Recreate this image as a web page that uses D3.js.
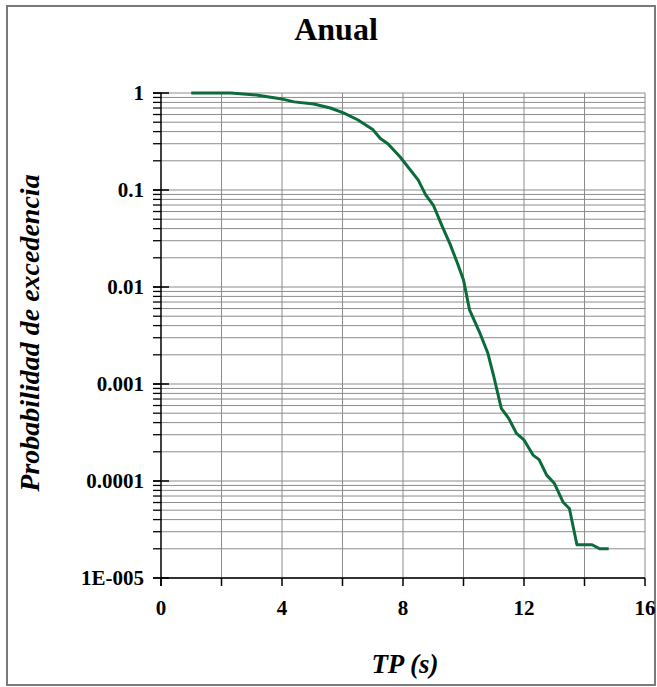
<!DOCTYPE html>
<html>
<head>
<meta charset="utf-8">
<script src="https://cdn.jsdelivr.net/npm/d3@7"></script>
<style>
  body { margin: 0; background: #fff; }
</style>
</head>
<body>
<div class="canvas"></div>
<script>
var width = 657,
    height = 687;

// data
var tp = [1.0, 2.3, 3.15, 4.05, 4.4, 5.05, 5.6, 6.05, 6.5, 7.0, 7.25, 7.5, 7.9, 8.5, 8.75, 9.0, 9.3, 9.55, 9.8, 10.0,
          10.2, 10.55, 10.8, 11.0, 11.25, 11.5, 11.75, 12.0, 12.3, 12.5, 12.75, 13.0, 13.3, 13.5, 13.75, 14.25, 14.5, 14.8];
var prob = [1, 1, 0.955, 0.86, 0.81, 0.77, 0.70, 0.62, 0.53, 0.42, 0.34, 0.30, 0.22, 0.127, 0.089, 0.070, 0.042, 0.028, 0.0176, 0.0118,
            0.0058, 0.0033, 0.0021, 0.0012, 0.00056, 0.00044, 0.00031, 0.000265, 0.000185, 0.000166, 0.000115, 0.000095, 0.00006, 0.000052, 0.000022, 0.000022, 0.00002, 0.00002];
var yTicks = [1, 0.1, 0.01, 0.001, 0.0001, 0.00001];
var yTickLabels = ["1", "0.1", "0.01", "0.001", "0.0001", "1E-005"];
var xTicks = [0, 4, 8, 12, 16];

var serif = "'Liberation Serif', 'Times New Roman', Times, serif";

var svg = d3.select(".canvas").append("svg")
    .attr("width", width)
    .attr("height", height)
    .attr("font-family", serif)
    .attr("font-weight", "bold");

// outer frame
svg.append("rect")
    .attr("x", 7).attr("y", 6)
    .attr("width", 648).attr("height", 679)
    .attr("fill", "none")
    .attr("stroke", "#7a7a7a")
    .attr("stroke-width", 2);

var x = d3.scaleLinear().domain([0, 16]).range([161, 645]);
var y = d3.scaleLog().domain([0.00001, 1]).range([578, 93]);

// minor values for the log grid
var minors = [];
for (var d = -5; d < 0; d++) {
    for (var m = 1; m <= 9; m++) {
        minors.push(m * Math.pow(10, d));
    }
}
minors.push(1);

var grid = svg.append("g");
grid.selectAll(".hgrid")
    .data(minors)
    .enter().append("line")
    .attr("x1", x(0)).attr("x2", x(16))
    .attr("y1", function(d) { return y(d); })
    .attr("y2", function(d) { return y(d); })
    .attr("stroke", "#8c8c8c")
    .attr("stroke-width", 1);

grid.selectAll(".vgrid")
    .data(d3.range(2, 17, 2))
    .enter().append("line")
    .attr("x1", function(d) { return x(d); })
    .attr("x2", function(d) { return x(d); })
    .attr("y1", y(1)).attr("y2", y(0.00001))
    .attr("stroke", "#8c8c8c")
    .attr("stroke-width", 1);

// y axis: minor ticks on the left, majors crossing
var yAxis = svg.append("g").attr("transform", "translate(" + x(0) + ",0)");
yAxis.append("line")
    .attr("y1", y(1)).attr("y2", y(0.00001) + 8)
    .attr("stroke", "#000").attr("stroke-width", 1.5);
yAxis.selectAll(".minor")
    .data(minors)
    .enter().append("line")
    .attr("x1", -8).attr("x2", 0)
    .attr("y1", function(d) { return y(d); })
    .attr("y2", function(d) { return y(d); })
    .attr("stroke", "#000").attr("stroke-width", 1.3);
yAxis.selectAll(".major")
    .data(yTicks)
    .enter().append("line")
    .attr("x1", -8).attr("x2", 8)
    .attr("y1", function(d) { return y(d); })
    .attr("y2", function(d) { return y(d); })
    .attr("stroke", "#000").attr("stroke-width", 1.5);
yAxis.selectAll(".lab")
    .data(yTicks)
    .enter().append("text")
    .attr("x", -17)
    .attr("y", function(d) { return y(d) + 7; })
    .attr("text-anchor", "end")
    .attr("font-size", 21)
    .text(function(d, i) { return yTickLabels[i]; });

// x axis
var xAxis = svg.append("g").attr("transform", "translate(0," + y(0.00001) + ")");
xAxis.append("line")
    .attr("x1", x(0)).attr("x2", x(16))
    .attr("stroke", "#000").attr("stroke-width", 1.5);
xAxis.selectAll(".tick")
    .data(d3.range(0, 17, 2))
    .enter().append("line")
    .attr("x1", function(d) { return x(d); })
    .attr("x2", function(d) { return x(d); })
    .attr("y1", 0).attr("y2", 8)
    .attr("stroke", "#000").attr("stroke-width", 1.5);
xAxis.selectAll(".lab")
    .data(xTicks)
    .enter().append("text")
    .attr("x", function(d) { return x(d); })
    .attr("y", 37)
    .attr("text-anchor", "middle")
    .attr("font-size", 21)
    .text(function(d) { return d; });

// the curve
var pts = tp.map(function(t, i) { return [t, prob[i]]; });
svg.append("path")
    .datum(pts)
    .attr("fill", "none")
    .attr("stroke", "#0b6b3a")
    .attr("stroke-width", 3)
    .attr("stroke-linejoin", "round")
    .attr("d", d3.line()
        .x(function(d) { return x(d[0]); })
        .y(function(d) { return y(d[1]); }));

// titles
svg.append("text")
    .attr("x", 336).attr("y", 40)
    .attr("text-anchor", "middle")
    .attr("font-size", 32)
    .text("Anual");

svg.append("text")
    .attr("transform", "translate(39,333) rotate(-90)")
    .attr("text-anchor", "middle")
    .attr("font-size", 28)
    .attr("font-style", "italic")
    .text("Probabilidad de excedencia");

svg.append("text")
    .attr("x", 405).attr("y", 673)
    .attr("text-anchor", "middle")
    .attr("font-size", 27)
    .attr("font-style", "italic")
    .text("TP (s)");
</script>
</body>
</html>
